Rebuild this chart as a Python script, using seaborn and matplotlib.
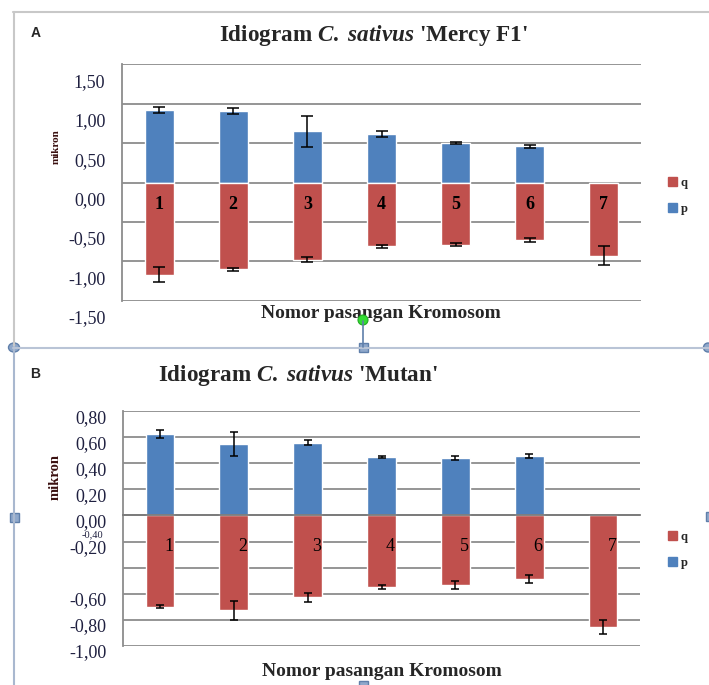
import numpy as np
import pandas as pd
import matplotlib
matplotlib.use("Agg")
import matplotlib.pyplot as plt
import seaborn as sns
from matplotlib import transforms
from matplotlib.patches import Patch, Rectangle, Ellipse, Circle
from matplotlib.lines import Line2D

# ---------------- data ----------------
chromosomes = ["1", "2", "3", "4", "5", "6", "7"]

a_p = [0.92, 0.91, 0.65, 0.62, 0.50, 0.46, 0.0]
a_p_err = [0.04, 0.04, 0.20, 0.04, 0.01, 0.02, 0.0]
a_q = [-1.17, -1.10, -0.98, -0.81, -0.79, -0.73, -0.93]
a_q_err = [0.10, 0.02, 0.03, 0.02, 0.02, 0.02, 0.12]

b_p = [0.626, 0.55, 0.56, 0.45, 0.445, 0.457, 0.0]
b_p_err = [0.03, 0.09, 0.02, 0.005, 0.015, 0.015, 0.0]
b_q = [-0.70, -0.73, -0.627, -0.55, -0.533, -0.49, -0.857]
b_q_err = [0.01, 0.07, 0.035, 0.015, 0.03, 0.03, 0.055]

a_yticks = [-1.5, -1.0, -0.5, 0.0, 0.5, 1.0, 1.5]
a_yticklabels = ["-1,50", "-1,00", "-0,50", "0,00", "0,50", "1,00", "1,50"]
b_yticks = [-1.0, -0.8, -0.6, -0.4, -0.2, 0.0, 0.2, 0.4, 0.6, 0.8]
b_yticklabels = ["-1,00", "-0,80", "-0,60", "", "-0,20", "0,00", "0,20", "0,40", "0,60", "0,80"]

title_a = r"Idiogram $\mathit{C.}$ $\mathit{sativus}$ 'Mercy F1'"
title_b = r"Idiogram $\mathit{C.}$ $\mathit{sativus}$ 'Mutan'"
xlabel = "Nomor pasangan Kromosom"
ylabel = "mikron"

BLUE = "#4F81BD"
RED = "#C0504D"
GRID = "#8C8C8C"
TICKCOL = "#1F2040"

sns.set_style("white")
plt.rcParams["font.family"] = ["Liberation Serif", "DejaVu Sans"]
plt.rcParams["mathtext.fontset"] = "custom"
plt.rcParams["mathtext.it"] = "Liberation Serif:italic:bold"
plt.rcParams["mathtext.rm"] = "Liberation Serif:bold"
plt.rcParams["mathtext.bf"] = "Liberation Serif:bold"

W, H = 709, 685
fig = plt.figure(figsize=(W / 100, H / 100), dpi=100)
fig.patch.set_facecolor("white")


def px_axes(l, t, r, b):
    return fig.add_axes([l / W, 1 - b / H, (r - l) / W, (b - t) / H])


def draw_panel(ax, p, p_err, q, q_err, yticks, yticklabels, ylim, lab_offset_px,
               capsize, num_y, num_dx, num_weight, zero_axis):
    df = pd.DataFrame({"kromosom": chromosomes, "p": p, "q": q})
    sns.barplot(data=df, x="kromosom", y="p", color=BLUE, width=0.39,
                saturation=1, errorbar=None, ax=ax, zorder=2)
    sns.barplot(data=df, x="kromosom", y="q", color=RED, width=0.39,
                saturation=1, errorbar=None, ax=ax, zorder=2)
    xs = np.arange(len(chromosomes))
    for vals, errs in ((p, p_err), (q, q_err)):
        vals = np.asarray(vals)
        errs = np.asarray(errs)
        m = errs > 0
        ax.errorbar(xs[m], vals[m], yerr=errs[m], fmt="none", ecolor="black",
                    elinewidth=1.1, capsize=capsize, capthick=1.1, zorder=4)
    for i, c in enumerate(chromosomes):
        ax.text(i + num_dx, num_y, c, ha="center", va="center_baseline",
                fontsize=13, fontweight=num_weight, color="black", zorder=5)
    ax.set_ylim(*ylim)
    ax.set_xlim(-0.5, len(chromosomes) - 0.5)
    ax.set_yticks(yticks, yticklabels)
    ax.set_xlabel("")
    ax.set_ylabel("")
    ax.set_axisbelow(True)
    ax.yaxis.grid(True, color=GRID, linewidth=1.3)
    ax.xaxis.grid(False)
    for s in ("top", "right"):
        ax.spines[s].set_visible(False)
    ax.spines["left"].set_color(GRID)
    ax.spines["left"].set_linewidth(1.3)
    ax.tick_params(axis="y", length=3, width=1.3, color=GRID, pad=9,
                   labelsize=13, labelcolor=TICKCOL)
    if zero_axis:
        ax.spines["bottom"].set_position(("data", 0))
        ax.spines["bottom"].set_color("#7A7A7A")
        ax.spines["bottom"].set_linewidth(1.3)
        ax.set_xticks(np.arange(-0.5, len(chromosomes), 1.0), [""] * (len(chromosomes) + 1))
        ax.tick_params(axis="x", length=4, width=1.1, color="#7A7A7A", direction="out")
    else:
        ax.spines["bottom"].set_visible(False)
        ax.set_xticks([])
    off = transforms.ScaledTranslation(0, -lab_offset_px / 100, fig.dpi_scale_trans)
    for lab in ax.get_yticklabels():
        lab.set_transform(lab.get_transform() + off)


# ---------------- panel A ----------------
axA = px_axes(122, 64, 641, 301)
draw_panel(axA, a_p, a_p_err, a_q, a_q_err, a_yticks, a_yticklabels,
           (-1.505, 1.505), 16, 4, -0.25, 0.0, "bold", False)

# ---------------- panel B ----------------
axB = px_axes(123, 411, 640, 646)
draw_panel(axB, b_p, b_p_err, b_q, b_q_err, b_yticks, b_yticklabels,
           (-1.003, 0.803), 5, 2.6, -0.22, 0.12, "normal", True)
fig.text(92 / W, 1 - 535 / H, "-0,40", fontsize=7.5, color=TICKCOL,
         ha="center", va="center")

# ---------------- titles / labels ----------------
fig.text(373 / W, 1 - 36 / H, title_a, fontsize=16.7, fontweight="bold",
         ha="center", va="center")
fig.text(298 / W, 1 - 376 / H, title_b, fontsize=16.7, fontweight="bold",
         ha="center", va="center")
fig.text(36 / W, 1 - 33 / H, "A", fontsize=10, fontweight="bold",
         family="Liberation Sans", ha="center", va="center")
fig.text(35 / W, 1 - 374 / H, "B", fontsize=10, fontweight="bold",
         family="Liberation Sans", ha="center", va="center")
fig.text(381 / W, 1 - 313 / H, xlabel, fontsize=14, fontweight="bold",
         ha="center", va="center")
fig.text(382 / W, 1 - 672 / H, xlabel, fontsize=14, fontweight="bold",
         ha="center", va="center")
fig.text(56 / W, 1 - 147 / H, ylabel, fontsize=8, fontweight="bold",
         rotation=90, ha="center", va="center", color="#3a1010")
fig.text(55 / W, 1 - 477 / H, ylabel, fontsize=10.5, fontweight="bold",
         rotation=90, ha="center", va="center", color="#3a1010")

# ---------------- legends ----------------
for ymid in (196, 550):
    fig.legend(handles=[Patch(color=RED, label="q"), Patch(color=BLUE, label="p")],
               loc="center left", bbox_to_anchor=(668 / W, 1 - ymid / H),
               frameon=False, handlelength=0.7, handleheight=0.7,
               handletextpad=0.3, labelspacing=1.1, borderpad=0, borderaxespad=0,
               prop={"family": "Liberation Serif", "weight": "bold", "size": 9})

# ---------------- document frame decorations ----------------
ov = fig.add_axes([0, 0, 1, 1], zorder=10)
ov.set_xlim(0, W)
ov.set_ylim(H, 0)
ov.axis("off")
ov.patch.set_alpha(0)
HCOL = "#8FA8CB"
HEDGE = "#5F7FAA"
ov.add_line(Line2D([13, W], [12, 12], color="#C8C8C8", lw=1.5))
ov.add_line(Line2D([13.5, 13.5], [12, 347], color="#C8C8C8", lw=1.5))
ov.add_line(Line2D([14, 14], [347, H], color="#A9B8CF", lw=1.5))
ov.add_line(Line2D([13, W], [347.5, 347.5], color="#B9C4D6", lw=1.5))
ov.add_line(Line2D([363, 363], [321, 347], color=HEDGE, lw=1.2))
ov.add_patch(Ellipse((14, 347.5), 11, 9, facecolor=HCOL, edgecolor=HEDGE, lw=1))
ov.add_patch(Ellipse((708, 347.5), 9, 9, facecolor=HCOL, edgecolor=HEDGE, lw=1))
ov.add_patch(Rectangle((358.5, 343), 9, 9, facecolor=HCOL, edgecolor=HEDGE, lw=1))
ov.add_patch(Rectangle((10, 513), 9, 9, facecolor=HCOL, edgecolor=HEDGE, lw=1))
ov.add_patch(Rectangle((358.5, 681), 9, 9, facecolor=HCOL, edgecolor=HEDGE, lw=1))
ov.add_patch(Rectangle((706, 512), 6, 9, facecolor=HCOL, edgecolor=HEDGE, lw=1))
ov.add_patch(Circle((363, 320), 5, facecolor="#33DD33", edgecolor="#22AA22", lw=0.8))

fig.savefig("out.png", dpi=100)
